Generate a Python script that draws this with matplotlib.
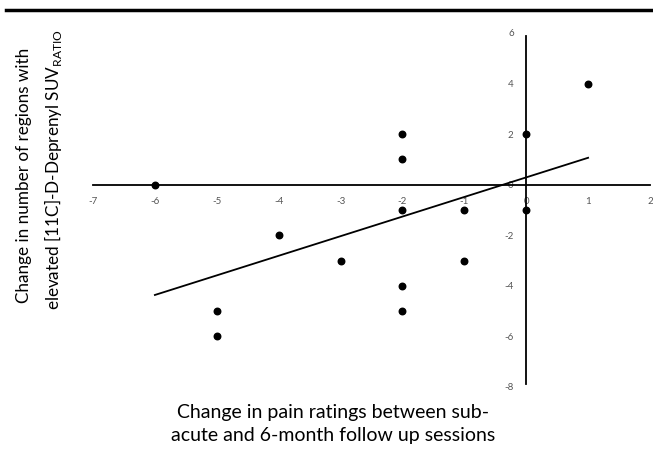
import matplotlib
matplotlib.use("Agg")
import matplotlib.pyplot as plt
from matplotlib.lines import Line2D
import numpy as np

pain_change = [-6, 1, 0, 0, -2, -2, -2, -1, -4, -3, -1, -2, -2, -5, -5]
region_change = [0, 4, 2, -1, 2, 1, -1, -1, -2, -3, -3, -4, -5, -5, -6]
x_ticks = [-7, -6, -5, -4, -3, -2, -1, 0, 1, 2]
y_ticks = [-8, -6, -4, -2, 0, 2, 4, 6]

plt.rcParams['font.family'] = ['Lato', 'DejaVu Sans']

fig = plt.figure(figsize=(6.53, 4.54), dpi=100)
ax = fig.add_axes([93/653, 67/454, 557/653, 354/454])

ax.set_xlim(-7, 2)
ax.set_ylim(-8, 6)

for s in ['top', 'right']:
    ax.spines[s].set_visible(False)
ax.spines['left'].set_position(('data', 0))
ax.spines['bottom'].set_position(('data', 0))
ax.spines['left'].set_linewidth(1.3)
ax.spines['bottom'].set_linewidth(1.3)
ax.spines['left'].set_bounds(-7.9, 5.9)

ax.set_xticks(x_ticks)
ax.set_yticks(y_ticks)
ax.set_xticklabels([str(v) for v in x_ticks])
ax.set_yticklabels([str(v) for v in y_ticks])
ax.tick_params(axis='both', length=0, labelsize=7, labelcolor='#555555')
ax.tick_params(axis='x', pad=9)
ax.tick_params(axis='y', pad=9)

ax.scatter(pain_change, region_change, s=22, color='black', zorder=3)

coef = np.polyfit(pain_change, region_change, 1)
xl = np.array([min(pain_change), max(pain_change)])
ax.plot(xl, np.polyval(coef, xl), color='black', lw=1.3, zorder=2)

fig.text(24/653, 1 - 175/454, "Change in number of regions with",
         rotation=90, ha='center', va='center', fontsize=12.3)
fig.text(53/653, 1 - 170/454, "elevated [11C]-D-Deprenyl SUV$_{\\mathregular{RATIO}}$",
         rotation=90, ha='center', va='center', fontsize=12.3)
fig.text(333/653, 1 - 424/454,
         "Change in pain ratings between sub-\nacute and 6-month follow up sessions",
         ha='center', va='center', fontsize=14, linespacing=1.4)

fig.add_artist(Line2D([6/653, 1], [1 - 10/454, 1 - 10/454], color='black', lw=2.5,
                      transform=fig.transFigure))

fig.savefig("out.png", dpi=100)
